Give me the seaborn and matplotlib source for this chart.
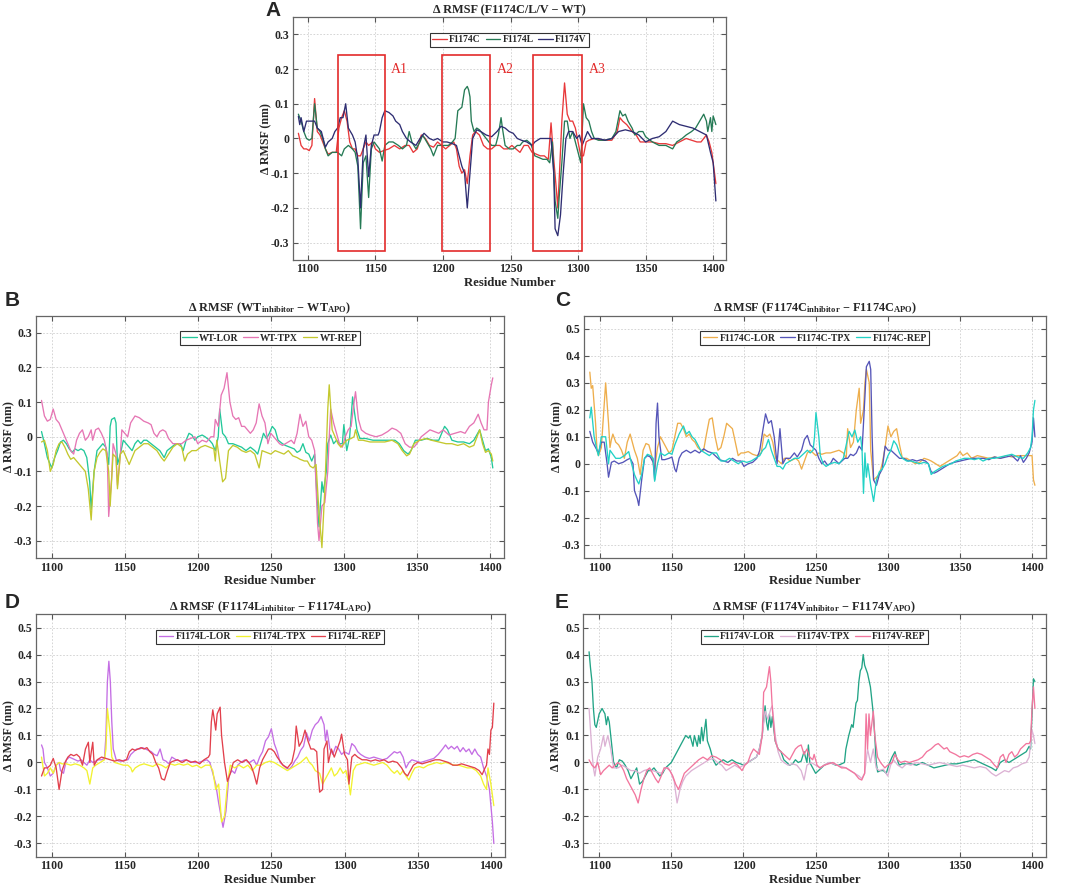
import numpy as np
import pandas as pd
import matplotlib
matplotlib.use('Agg')
import matplotlib.pyplot as plt
from matplotlib.patches import Rectangle
from matplotlib.ticker import FuncFormatter
import seaborn as sns

# ─── Data: (residue, delta RMSF nm)
#
A_F1174C = [(1093,0.015),(1095,-0.02),(1097,-0.03),(1099,-0.03),(1101,-0.035),(1103,-0.02),(1105,0.115),(1107,0.02),(1109,0.01),(1111,-0.01),(1113,-0.03),(1115,-0.045),(1118,-0.04),(1121,-0.04),(1123,0.03),(1125,0.06),(1127,0.08),(1129,0.05),(1131,-0.01),(1133,-0.03),(1135,-0.03),(1137,-0.05),(1139,-0.05),(1141,-0.03),(1143,-0.01),(1145,-0.02),(1148,-0.01),(1150,-0.03),(1153,-0.04),(1156,-0.035),(1160,-0.03),(1164,-0.02),(1168,-0.03),(1172,-0.02),(1175,-0.02),(1178,-0.04),(1181,-0.03),(1184,0.01),(1187,0.0),(1190,-0.02),(1193,-0.025),(1196,-0.01),(1199,-0.02),(1202,-0.03),(1205,-0.02),(1208,-0.01),(1210,-0.03),(1212,-0.08),(1214,-0.1),(1216,-0.09),(1218,-0.13),(1220,-0.05),(1222,0.01),(1224,0.02),(1227,0.01),(1230,-0.02),(1233,-0.03),(1236,-0.03),(1239,-0.02),(1242,-0.02),(1245,-0.03),(1248,-0.03),(1251,-0.02),(1254,-0.03),(1257,-0.04),(1260,-0.02),(1263,-0.02),(1266,-0.04),(1269,-0.045),(1272,-0.05),(1275,-0.05),(1278,-0.06),(1280,0.045),(1282,-0.06),(1284,-0.15),(1285,-0.2),(1286,-0.12),(1288,0.05),(1290,0.16),(1292,0.07),(1294,0.05),(1296,0.05),(1298,0.03),(1300,-0.01),(1302,-0.05),(1304,-0.05),(1306,-0.01),(1308,-0.005),(1312,0.0),(1318,-0.005),(1325,-0.005),(1329,0.02),(1331,0.06),(1333,0.05),(1336,0.04),(1340,0.02),(1343,0.01),(1346,-0.01),(1350,-0.01),(1355,-0.01),(1360,-0.015),(1365,-0.015),(1370,-0.02),(1375,-0.01),(1380,0.0),(1384,-0.005),(1388,-0.01),(1391,-0.01),(1393,0.0),(1395,0.01),(1397,-0.01),(1399,-0.04),(1401,-0.1),(1402,-0.13)]
A_F1174L = [(1093,0.07),(1095,0.05),(1097,0.02),(1099,0.0),(1101,-0.005),(1103,0.0),(1105,0.1),(1107,0.03),(1109,0.02),(1111,0.0),(1113,-0.03),(1115,-0.05),(1118,-0.04),(1122,-0.04),(1125,-0.05),(1127,-0.03),(1130,-0.02),(1133,-0.03),(1135,-0.04),(1137,-0.08),(1139,-0.26),(1141,-0.07),(1143,-0.05),(1145,-0.17),(1147,-0.03),(1149,-0.01),(1151,-0.02),(1153,-0.03),(1155,-0.065),(1157,-0.02),(1160,-0.01),(1163,-0.01),(1167,-0.02),(1170,-0.03),(1173,-0.02),(1175,0.02),(1177,-0.01),(1180,-0.03),(1183,-0.01),(1185,0.01),(1188,-0.01),(1191,-0.03),(1193,-0.05),(1196,-0.02),(1200,-0.02),(1204,-0.02),(1207,-0.01),(1209,0.0),(1211,0.08),(1214,0.09),(1216,0.14),(1218,0.15),(1219,0.14),(1220,0.12),(1221,0.05),(1223,0.02),(1225,0.03),(1227,0.025),(1230,0.01),(1233,-0.005),(1236,-0.02),(1239,-0.02),(1241,0.01),(1243,0.06),(1244,0.03),(1246,-0.02),(1249,-0.03),(1252,-0.03),(1255,-0.02),(1257,-0.02),(1259,-0.01),(1262,-0.005),(1265,-0.015),(1268,-0.05),(1271,-0.055),(1274,-0.06),(1277,-0.06),(1279,-0.07),(1281,-0.01),(1283,-0.18),(1285,-0.23),(1286,-0.17),(1288,-0.07),(1290,0.05),(1292,0.05),(1294,0.0),(1296,0.02),(1298,-0.01),(1300,-0.04),(1302,-0.07),(1304,0.1),(1306,0.06),(1308,0.05),(1310,0.02),(1312,0.0),(1315,-0.005),(1320,-0.005),(1325,0.0),(1328,0.02),(1331,0.08),(1333,0.065),(1335,0.07),(1337,0.05),(1340,0.03),(1342,0.01),(1345,0.02),(1348,0.02),(1350,0.005),(1355,-0.01),(1360,-0.02),(1365,-0.02),(1370,-0.03),(1373,-0.01),(1377,0.0),(1380,0.01),(1384,0.02),(1387,0.03),(1390,0.05),(1393,0.07),(1395,0.05),(1396,0.02),(1398,0.06),(1399,0.02),(1400,0.065),(1402,0.04)]
A_F1174V = [(1093,0.064),(1094,0.04),(1095,0.06),(1097,0.02),(1099,0.05),(1102,0.05),(1105,0.05),(1107,0.03),(1110,0.02),(1113,-0.025),(1115,-0.01),(1118,0.0),(1120,0.02),(1122,0.03),(1124,0.06),(1126,0.06),(1128,0.1),(1130,0.03),(1133,0.01),(1135,-0.01),(1137,-0.06),(1139,-0.2),(1141,-0.03),(1143,0.01),(1145,-0.11),(1147,-0.02),(1149,0.01),(1152,0.01),(1153,0.02),(1155,0.06),(1157,0.08),(1160,0.075),(1163,0.065),(1165,0.05),(1168,0.04),(1170,0.02),(1173,0.0),(1176,-0.01),(1180,-0.02),(1183,0.0),(1186,0.015),(1190,0.0),(1193,-0.005),(1196,0.0),(1200,-0.01),(1203,-0.01),(1207,-0.015),(1210,-0.02),(1212,-0.05),(1214,-0.08),(1216,-0.1),(1218,-0.2),(1220,-0.1),(1222,0.0),(1225,0.025),(1228,0.02),(1232,0.01),(1236,0.005),(1240,0.02),(1243,0.035),(1246,0.03),(1249,0.02),(1252,0.015),(1255,0.0),(1258,-0.005),(1262,-0.01),(1266,-0.02),(1268,-0.01),(1272,0.0),(1276,0.0),(1280,0.0),(1282,-0.1),(1283,-0.26),(1285,-0.28),(1287,-0.22),(1289,-0.1),(1291,0.0),(1293,0.02),(1296,0.02),(1299,0.0),(1301,0.01),(1303,-0.02),(1305,0.0),(1307,0.02),(1310,0.0),(1315,0.0),(1320,-0.005),(1325,0.0),(1330,0.02),(1335,0.025),(1340,0.02),(1345,0.01),(1350,-0.01),(1355,0.0),(1360,0.005),(1365,0.02),(1370,0.05),(1375,0.04),(1380,0.035),(1385,0.03),(1390,0.02),(1395,0.01),(1398,-0.04),(1400,-0.07),(1402,-0.18)]

B_LOR = [(1093,0.015),(1095,-0.02),(1097,-0.06),(1100,-0.09),(1102,-0.06),(1104,-0.04),(1106,-0.015),(1108,-0.01),(1110,-0.02),(1112,-0.035),(1114,-0.045),(1116,-0.035),(1118,-0.04),(1120,-0.035),(1122,-0.04),(1124,-0.06),(1126,-0.13),(1127,-0.21),(1129,-0.1),(1131,-0.04),(1133,-0.03),(1135,-0.02),(1137,-0.03),(1139,-0.08),(1140,0.03),(1141,0.05),(1143,0.055),(1144,0.04),(1145,-0.08),(1147,-0.05),(1149,-0.01),(1151,-0.02),(1153,-0.03),(1155,-0.04),(1157,-0.02),(1159,-0.01),(1161,-0.02),(1163,-0.01),(1165,-0.01),(1168,-0.02),(1171,-0.03),(1174,-0.04),(1177,-0.06),(1179,-0.04),(1182,-0.03),(1185,-0.02),(1188,-0.02),(1190,-0.04),(1192,-0.01),(1194,0.01),(1196,0.005),(1198,-0.01),(1200,0.0),(1203,0.005),(1205,0.0),(1208,-0.01),(1210,-0.02),(1212,-0.04),(1214,0.0),(1215,0.08),(1217,0.01),(1219,0.0),(1221,-0.02),(1224,-0.02),(1227,-0.025),(1230,-0.03),(1233,-0.04),(1236,-0.03),(1239,-0.04),(1241,-0.05),(1243,-0.02),(1245,0.01),(1247,-0.005),(1249,0.01),(1251,0.03),(1253,0.02),(1255,-0.01),(1258,-0.02),(1260,-0.025),(1263,-0.03),(1266,-0.035),(1268,-0.045),(1270,-0.04),(1272,-0.02),(1274,-0.045),(1276,-0.05),(1278,-0.07),(1280,-0.05),(1282,-0.2),(1283,-0.26),(1285,-0.13),(1286,-0.16),(1288,-0.1),(1289,-0.02),(1291,0.005),(1293,-0.02),(1295,-0.01),(1297,-0.02),(1299,-0.02),(1300,0.035),(1302,-0.04),(1304,0.0),(1306,0.115),(1307,0.08),(1309,0.02),(1311,-0.005),(1315,-0.005),(1320,-0.01),(1325,-0.01),(1330,-0.01),(1335,-0.01),(1338,-0.02),(1341,-0.04),(1344,-0.05),(1346,-0.04),(1349,-0.01),(1353,-0.01),(1357,-0.005),(1361,-0.01),(1365,-0.01),(1369,0.03),(1371,0.02),(1374,-0.01),(1378,-0.015),(1382,-0.015),(1386,-0.02),(1389,-0.01),(1393,0.02),(1395,-0.01),(1397,-0.04),(1399,-0.035),(1401,-0.06),(1402,-0.09)]
B_TPX = [(1093,0.105),(1095,0.06),(1097,0.045),(1099,0.05),(1101,0.08),(1103,0.05),(1105,0.04),(1107,0.02),(1109,0.0),(1111,-0.02),(1113,-0.04),(1115,-0.05),(1117,-0.01),(1119,0.01),(1121,0.02),(1123,-0.01),(1125,0.0),(1127,0.02),(1128,-0.01),(1130,0.02),(1132,0.025),(1134,0.01),(1136,-0.01),(1138,-0.05),(1139,-0.23),(1141,-0.12),(1142,-0.02),(1144,-0.05),(1145,-0.14),(1147,-0.05),(1148,0.02),(1150,0.01),(1152,0.0),(1154,0.04),(1157,0.06),(1160,0.055),(1163,0.045),(1166,0.04),(1168,0.035),(1170,0.01),(1172,0.0),(1174,0.015),(1176,0.02),(1178,0.015),(1180,-0.005),(1183,-0.02),(1186,-0.02),(1189,-0.02),(1192,-0.01),(1195,-0.005),(1198,0.0),(1200,-0.02),(1203,-0.01),(1206,-0.015),(1209,0.0),(1211,0.0),(1212,0.05),(1214,0.03),(1216,0.12),(1218,0.14),(1220,0.185),(1222,0.1),(1224,0.06),(1226,0.05),(1228,0.055),(1230,0.03),(1232,0.03),(1234,0.02),(1236,0.01),(1238,0.02),(1240,0.04),(1242,0.095),(1244,0.06),(1246,0.04),(1248,-0.02),(1250,0.01),(1252,0.0),(1254,-0.01),(1256,-0.02),(1258,-0.025),(1260,-0.02),(1262,-0.015),(1264,-0.01),(1266,-0.02),(1268,0.01),(1270,0.065),(1272,0.03),(1274,0.045),(1276,0.0),(1278,-0.01),(1280,-0.04),(1282,-0.25),(1283,-0.3),(1285,-0.2),(1287,-0.19),(1289,-0.1),(1290,0.0),(1291,0.08),(1293,0.04),(1295,0.01),(1297,-0.02),(1299,-0.03),(1301,0.0),(1303,0.02),(1305,0.03),(1307,0.1),(1308,0.13),(1310,0.05),(1312,0.02),(1315,0.01),(1318,0.005),(1322,0.0),(1326,0.005),(1330,0.015),(1333,0.025),(1336,0.02),(1339,0.01),(1342,-0.02),(1345,-0.03),(1348,-0.03),(1350,-0.02),(1353,0.0),(1356,0.01),(1359,0.02),(1362,0.015),(1365,0.01),(1368,0.02),(1372,0.005),(1376,0.01),(1380,0.015),(1383,0.01),(1386,0.03),(1389,0.04),(1392,0.065),(1394,0.04),(1396,0.02),(1398,0.02),(1399,0.1),(1401,0.15),(1402,0.17)]
B_REP = [(1093,-0.015),(1095,-0.01),(1097,-0.04),(1099,-0.1),(1101,-0.08),(1103,-0.04),(1105,-0.02),(1107,-0.015),(1109,-0.03),(1111,-0.05),(1113,-0.065),(1115,-0.06),(1117,-0.07),(1119,-0.08),(1121,-0.09),(1123,-0.1),(1125,-0.15),(1127,-0.24),(1129,-0.1),(1131,-0.06),(1133,-0.045),(1135,-0.035),(1137,-0.04),(1139,-0.1),(1140,-0.2),(1142,-0.05),(1144,-0.06),(1145,-0.15),(1147,-0.05),(1149,-0.04),(1151,-0.06),(1153,-0.08),(1155,-0.06),(1157,-0.04),(1160,-0.03),(1163,-0.02),(1166,-0.02),(1169,-0.03),(1172,-0.04),(1175,-0.06),(1177,-0.07),(1180,-0.05),(1183,-0.03),(1186,-0.02),(1189,-0.03),(1191,-0.07),(1193,-0.05),(1196,-0.04),(1199,-0.04),(1202,-0.03),(1205,-0.025),(1208,-0.03),(1211,-0.035),(1212,-0.07),(1213,-0.01),(1215,-0.07),(1217,-0.13),(1219,-0.12),(1221,-0.04),(1224,-0.025),(1227,-0.03),(1230,-0.04),(1233,-0.045),(1236,-0.04),(1239,-0.05),(1242,-0.09),(1244,-0.04),(1247,-0.045),(1250,-0.05),(1253,-0.04),(1256,-0.045),(1259,-0.05),(1262,-0.04),(1265,-0.055),(1268,-0.06),(1270,-0.065),(1273,-0.07),(1275,-0.07),(1277,-0.085),(1279,-0.09),(1281,-0.08),(1283,-0.22),(1285,-0.32),(1287,-0.15),(1289,0.08),(1290,0.15),(1292,0.02),(1294,0.0),(1296,-0.02),(1298,-0.03),(1300,-0.02),(1302,-0.01),(1305,-0.005),(1307,0.0),(1308,0.02),(1310,-0.01),(1313,-0.01),(1318,-0.015),(1323,-0.015),(1328,-0.015),(1333,-0.01),(1337,-0.02),(1340,-0.04),(1343,-0.055),(1345,-0.05),(1348,-0.02),(1352,-0.01),(1356,-0.005),(1360,-0.01),(1365,-0.015),(1370,-0.02),(1374,-0.02),(1378,-0.025),(1382,-0.02),(1386,-0.03),(1389,-0.025),(1393,0.02),(1395,-0.02),(1397,-0.045),(1399,-0.04),(1401,-0.05),(1402,-0.07)]

C_LOR = [(1093,0.34),(1094,0.28),(1095,0.29),(1097,0.15),(1098,0.05),(1099,0.03),(1101,0.06),(1103,0.22),(1104,0.3),(1106,0.15),(1107,0.06),(1108,0.09),(1109,0.11),(1111,0.08),(1113,0.07),(1115,0.05),(1117,0.02),(1119,0.08),(1121,0.11),(1123,0.07),(1124,0.05),(1126,0.02),(1128,-0.04),(1130,0.05),(1132,0.075),(1134,0.07),(1136,0.03),(1138,-0.02),(1140,0.06),(1142,0.1),(1144,0.08),(1146,0.06),(1148,0.04),(1150,0.05),(1152,0.1),(1154,0.15),(1156,0.15),(1158,0.13),(1160,0.1),(1162,0.11),(1164,0.09),(1166,0.08),(1168,0.06),(1170,0.05),(1172,0.05),(1174,0.11),(1176,0.165),(1178,0.17),(1180,0.1),(1182,0.05),(1184,0.06),(1186,0.1),(1188,0.15),(1190,0.14),(1192,0.13),(1194,0.08),(1196,0.03),(1198,0.04),(1200,0.04),(1203,0.045),(1206,0.035),(1209,0.03),(1212,0.04),(1214,0.11),(1216,0.1),(1218,0.11),(1220,0.08),(1222,0.02),(1224,0.01),(1226,0.0),(1228,0.02),(1230,0.02),(1232,0.01),(1234,0.015),(1236,0.02),(1238,0.01),(1240,-0.02),(1242,0.01),(1244,0.04),(1246,0.05),(1248,0.04),(1250,0.03),(1252,0.04),(1254,0.035),(1257,0.04),(1260,0.04),(1263,0.045),(1266,0.05),(1269,0.04),(1271,0.02),(1272,0.13),(1274,0.06),(1276,0.08),(1278,0.2),(1280,0.28),(1281,0.15),(1283,0.2),(1284,0.3),(1285,0.35),(1287,0.3),(1288,0.05),(1290,-0.06),(1292,-0.05),(1294,-0.04),(1296,0.0),(1298,0.06),(1300,0.14),(1302,0.1),(1304,0.12),(1306,0.13),(1308,0.07),(1310,0.02),(1313,0.02),(1316,0.01),(1319,0.0),(1322,0.005),(1325,0.02),(1328,0.015),(1330,0.01),(1333,0.0),(1336,-0.01),(1339,0.0),(1342,0.01),(1345,0.02),(1348,0.03),(1350,0.045),(1352,0.03),(1355,0.04),(1358,0.02),(1362,0.03),(1366,0.025),(1370,0.02),(1374,0.025),(1378,0.02),(1382,0.03),(1386,0.025),(1390,0.03),(1394,0.03),(1398,0.03),(1400,0.03),(1401,-0.06),(1402,-0.08)]
C_TPX = [(1093,0.12),(1095,0.08),(1097,0.06),(1099,0.04),(1101,0.08),(1103,0.08),(1105,0.0),(1106,-0.05),(1108,0.005),(1110,0.01),(1113,0.0),(1116,0.005),(1119,0.015),(1121,0.02),(1123,0.0),(1124,-0.1),(1126,-0.13),(1127,-0.155),(1129,-0.06),(1131,0.02),(1133,0.03),(1135,0.025),(1137,0.005),(1138,-0.06),(1139,0.15),(1140,0.225),(1141,0.1),(1143,0.015),(1145,0.015),(1148,0.02),(1150,0.025),(1152,-0.02),(1153,-0.03),(1155,0.02),(1157,0.04),(1160,0.05),(1163,0.04),(1166,0.05),(1169,0.04),(1172,0.055),(1175,0.045),(1178,0.04),(1180,0.03),(1183,0.015),(1186,0.01),(1189,0.005),(1192,0.02),(1195,0.01),(1198,0.01),(1200,-0.01),(1203,0.0),(1206,0.005),(1209,0.02),(1211,0.05),(1213,0.12),(1215,0.185),(1217,0.15),(1219,0.16),(1221,0.1),(1223,0.0),(1225,0.13),(1227,0.0),(1229,0.02),(1232,0.02),(1235,0.04),(1237,0.025),(1240,0.05),(1242,0.09),(1244,0.105),(1246,0.07),(1248,0.06),(1250,0.05),(1252,0.02),(1254,0.0),(1256,0.01),(1258,-0.005),(1260,0.0),(1262,0.02),(1264,0.01),(1266,0.0),(1268,0.01),(1270,0.02),(1272,0.02),(1274,0.035),(1276,0.03),(1278,0.04),(1280,0.065),(1282,0.05),(1284,0.25),(1285,0.36),(1287,0.38),(1288,0.35),(1289,0.1),(1290,-0.06),(1292,-0.08),(1294,-0.04),(1296,-0.02),(1298,0.065),(1300,0.05),(1302,0.05),(1304,0.04),(1306,0.03),(1308,0.02),(1311,0.02),(1314,0.01),(1317,0.015),(1320,0.01),(1323,0.015),(1326,0.01),(1328,0.0),(1330,-0.03),(1332,-0.035),(1334,-0.03),(1337,-0.02),(1340,-0.01),(1343,0.0),(1346,0.005),(1350,0.01),(1354,0.015),(1358,0.02),(1362,0.02),(1366,0.02),(1370,0.015),(1374,0.025),(1378,0.02),(1382,0.025),(1386,0.03),(1390,0.01),(1392,0.03),(1394,0.005),(1396,0.02),(1398,0.04),(1400,0.08),(1401,0.17),(1402,0.1)]
C_REP = [(1093,0.17),(1094,0.21),(1096,0.1),(1098,0.05),(1099,0.03),(1101,0.1),(1104,0.1),(1106,0.0),(1107,0.05),(1109,0.035),(1111,0.02),(1114,0.02),(1117,0.03),(1120,0.045),(1122,0.0),(1124,-0.04),(1126,-0.065),(1127,-0.075),(1129,-0.04),(1131,0.02),(1133,0.035),(1135,0.03),(1137,0.02),(1138,-0.065),(1140,0.0),(1142,0.04),(1145,0.03),(1148,0.04),(1150,0.035),(1152,0.07),(1155,0.11),(1158,0.14),(1160,0.11),(1162,0.12),(1164,0.1),(1166,0.09),(1168,0.07),(1170,0.05),(1173,0.04),(1176,0.03),(1178,0.04),(1181,0.04),(1184,0.01),(1187,0.01),(1190,0.02),(1193,0.01),(1196,0.0),(1199,0.01),(1202,0.005),(1205,0.01),(1208,0.02),(1211,0.03),(1213,0.05),(1215,0.06),(1217,0.09),(1219,0.05),(1221,0.02),(1223,-0.01),(1225,-0.01),(1227,-0.02),(1229,0.0),(1232,0.01),(1235,0.02),(1238,0.02),(1241,0.035),(1244,0.05),(1246,0.04),(1248,0.05),(1249,0.1),(1250,0.19),(1252,0.1),(1253,0.03),(1255,0.0),(1257,-0.01),(1260,0.0),(1263,0.005),(1266,0.0),(1269,0.02),(1271,0.07),(1273,0.12),(1275,0.1),(1277,0.125),(1279,0.08),(1281,0.1),(1282,0.05),(1283,-0.11),(1284,0.04),(1285,-0.05),(1286,0.0),(1288,-0.08),(1290,-0.14),(1292,-0.06),(1294,-0.03),(1296,-0.02),(1298,0.0),(1300,0.03),(1302,0.05),(1304,0.085),(1306,0.07),(1308,0.04),(1310,0.02),(1313,0.01),(1316,0.01),(1319,0.005),(1322,0.0),(1325,0.005),(1328,0.0),(1330,-0.04),(1332,-0.03),(1335,-0.02),(1338,-0.01),(1341,-0.005),(1344,0.0),(1347,0.01),(1350,0.015),(1353,0.02),(1356,0.02),(1360,0.015),(1363,0.02),(1366,0.01),(1370,0.02),(1374,0.02),(1378,0.025),(1382,0.03),(1386,0.035),(1390,0.025),(1394,0.02),(1397,0.04),(1399,0.06),(1400,0.1),(1401,0.2),(1402,0.235)]

D_LOR = [(1093,0.065),(1094,0.05),(1095,0.0),(1097,-0.02),(1099,-0.05),(1101,-0.04),(1103,-0.01),(1105,0.0),(1106,-0.03),(1108,-0.04),(1110,0.01),(1112,0.02),(1114,0.015),(1116,0.01),(1118,0.005),(1120,0.01),(1122,0.0),(1124,-0.01),(1126,0.01),(1128,0.0),(1130,0.005),(1132,0.01),(1134,0.01),(1136,0.015),(1137,0.1),(1138,0.3),(1139,0.375),(1140,0.3),(1141,0.15),(1142,0.05),(1144,0.01),(1146,0.005),(1148,0.005),(1150,0.01),(1152,0.01),(1154,0.03),(1156,0.04),(1158,0.05),(1160,0.05),(1162,0.055),(1164,0.05),(1166,0.045),(1168,0.04),(1170,0.03),(1172,0.025),(1174,0.05),(1176,0.01),(1178,0.005),(1180,-0.005),(1182,0.02),(1185,0.01),(1188,0.005),(1191,0.01),(1194,0.005),(1197,0.0),(1200,0.0),(1203,0.005),(1206,0.01),(1208,0.0),(1210,-0.04),(1212,-0.08),(1214,-0.15),(1215,-0.18),(1217,-0.24),(1219,-0.18),(1221,-0.05),(1223,-0.03),(1225,-0.04),(1227,-0.01),(1229,0.0),(1232,0.01),(1235,0.0),(1238,0.01),(1240,-0.01),(1242,0.02),(1244,0.04),(1246,0.08),(1248,0.095),(1250,0.125),(1252,0.07),(1254,0.04),(1256,0.0),(1258,-0.01),(1260,-0.02),(1262,-0.025),(1264,-0.015),(1266,0.005),(1268,0.02),(1270,0.045),(1272,0.06),(1274,0.11),(1276,0.08),(1278,0.12),(1280,0.14),(1282,0.15),(1284,0.17),(1286,0.14),(1287,0.08),(1288,0.12),(1290,0.05),(1292,0.03),(1294,0.06),(1296,0.05),(1298,0.03),(1300,0.04),(1303,0.03),(1305,0.07),(1307,0.06),(1309,0.04),(1311,0.03),(1314,0.02),(1317,0.015),(1320,0.02),(1323,0.015),(1326,0.01),(1329,0.015),(1332,0.03),(1334,0.04),(1336,0.035),(1338,0.04),(1340,0.02),(1342,-0.02),(1344,0.0),(1346,0.01),(1349,0.005),(1352,0.0),(1355,0.005),(1358,0.01),(1361,0.015),(1364,0.03),(1367,0.05),(1369,0.065),(1371,0.05),(1373,0.06),(1375,0.05),(1377,0.06),(1379,0.04),(1381,0.055),(1383,0.04),(1385,0.05),(1387,0.03),(1389,0.05),(1391,0.03),(1393,0.02),(1395,-0.02),(1397,-0.05),(1399,-0.1),(1401,-0.22),(1402,-0.3)]
D_TPX = [(1093,0.02),(1095,-0.05),(1097,-0.04),(1099,-0.02),(1101,-0.04),(1103,-0.01),(1105,0.0),(1107,-0.005),(1110,-0.005),(1113,-0.01),(1116,-0.005),(1119,-0.01),(1122,-0.02),(1124,-0.03),(1126,-0.08),(1128,-0.02),(1130,-0.01),(1133,0.0),(1136,0.01),(1137,0.05),(1138,0.2),(1140,0.1),(1141,0.02),(1143,0.0),(1146,-0.005),(1149,-0.01),(1152,-0.01),(1154,-0.02),(1155,-0.035),(1157,-0.02),(1160,-0.01),(1163,-0.005),(1166,-0.01),(1169,-0.015),(1172,-0.005),(1175,-0.01),(1178,-0.02),(1181,-0.005),(1184,-0.01),(1187,-0.005),(1190,-0.01),(1193,-0.005),(1196,-0.015),(1199,-0.01),(1202,-0.02),(1205,-0.01),(1208,-0.01),(1210,-0.03),(1212,-0.1),(1214,-0.08),(1216,-0.22),(1218,-0.2),(1220,-0.08),(1222,-0.01),(1225,-0.02),(1228,-0.01),(1231,-0.02),(1234,-0.01),(1237,-0.03),(1240,-0.01),(1243,-0.01),(1246,0.0),(1249,0.005),(1252,0.0),(1255,-0.01),(1258,-0.02),(1261,-0.03),(1264,-0.02),(1267,-0.01),(1270,0.0),(1272,0.01),(1274,0.02),(1276,0.0),(1278,-0.01),(1280,-0.03),(1283,-0.04),(1285,-0.08),(1287,-0.06),(1289,-0.04),(1291,-0.02),(1293,-0.05),(1295,-0.04),(1297,-0.02),(1299,-0.04),(1301,-0.03),(1303,-0.08),(1304,-0.12),(1306,-0.03),(1308,-0.01),(1311,-0.005),(1314,0.0),(1317,-0.005),(1320,-0.01),(1323,-0.005),(1326,0.0),(1329,-0.01),(1332,-0.03),(1334,-0.04),(1336,-0.03),(1338,-0.045),(1340,-0.03),(1342,-0.05),(1344,-0.065),(1346,-0.04),(1348,-0.02),(1351,-0.015),(1354,-0.02),(1357,-0.01),(1360,-0.005),(1363,0.0),(1366,-0.005),(1369,0.0),(1372,-0.005),(1375,-0.01),(1378,-0.01),(1381,-0.015),(1384,-0.02),(1387,-0.02),(1390,-0.03),(1393,-0.05),(1395,-0.08),(1397,-0.1),(1398,-0.02),(1400,-0.08),(1402,-0.16)]
D_REP = [(1093,-0.05),(1095,-0.02),(1097,-0.02),(1099,-0.01),(1101,0.015),(1103,-0.02),(1105,-0.1),(1107,-0.03),(1109,0.0),(1111,0.02),(1113,0.03),(1115,0.025),(1117,0.03),(1119,0.02),(1121,-0.01),(1123,0.05),(1125,0.075),(1126,0.0),(1127,0.04),(1128,0.075),(1129,-0.01),(1131,0.01),(1134,0.02),(1137,0.015),(1140,0.01),(1143,0.005),(1146,0.01),(1149,0.005),(1151,0.01),(1153,0.04),(1155,0.05),(1157,0.045),(1159,0.05),(1161,0.055),(1163,0.05),(1165,0.055),(1167,0.04),(1169,0.03),(1171,0.0),(1173,-0.02),(1175,-0.06),(1177,-0.065),(1179,-0.03),(1181,0.0),(1183,0.005),(1186,0.01),(1189,0.0),(1192,0.01),(1195,0.0),(1198,0.005),(1201,-0.005),(1204,0.01),(1207,0.02),(1208,0.03),(1209,0.15),(1210,0.195),(1211,0.16),(1212,0.12),(1213,0.18),(1215,0.205),(1216,0.1),(1218,0.0),(1220,-0.07),(1222,-0.04),(1224,0.0),(1227,0.01),(1230,0.0),(1233,0.01),(1236,-0.01),(1238,-0.04),(1240,-0.08),(1242,-0.02),(1244,0.01),(1246,0.03),(1248,0.05),(1250,0.05),(1252,0.04),(1254,0.02),(1256,0.005),(1258,-0.01),(1261,-0.02),(1264,0.0),(1266,0.05),(1267,0.135),(1269,0.06),(1271,0.08),(1273,0.12),(1275,0.08),(1277,0.05),(1279,0.05),(1281,0.04),(1282,-0.05),(1283,-0.11),(1285,-0.1),(1286,0.05),(1288,0.08),(1289,0.0),(1291,0.05),(1293,0.02),(1295,0.05),(1297,0.08),(1298,0.105),(1300,0.03),(1302,0.01),(1303,-0.08),(1305,0.02),(1307,0.03),(1309,0.02),(1312,0.01),(1315,0.01),(1318,0.005),(1321,0.01),(1324,0.005),(1327,0.01),(1330,0.0),(1333,0.005),(1336,0.0),(1339,-0.02),(1341,-0.04),(1343,-0.05),(1345,-0.03),(1347,-0.01),(1350,0.0),(1353,-0.005),(1356,0.0),(1359,0.005),(1362,0.01),(1365,0.01),(1368,0.005),(1371,0.0),(1374,-0.01),(1377,-0.01),(1380,-0.005),(1383,-0.01),(1386,-0.015),(1389,-0.02),(1392,-0.03),(1394,-0.045),(1396,-0.02),(1397,-0.01),(1398,0.05),(1399,0.03),(1400,0.12),(1401,0.13),(1402,0.22)]

E_LOR = [(1093,0.41),(1094,0.35),(1095,0.3),(1096,0.2),(1097,0.14),(1098,0.13),(1100,0.18),(1102,0.2),(1104,0.18),(1105,0.14),(1106,0.17),(1107,0.15),(1108,0.1),(1109,0.05),(1110,0.0),(1112,-0.02),(1114,0.01),(1116,0.005),(1118,-0.01),(1120,-0.03),(1122,-0.06),(1124,-0.04),(1126,-0.02),(1128,-0.08),(1130,-0.07),(1132,-0.05),(1134,-0.03),(1136,-0.03),(1138,-0.02),(1140,-0.035),(1142,-0.05),(1144,-0.04),(1146,-0.02),(1148,-0.01),(1150,0.0),(1152,0.02),(1154,0.04),(1156,0.06),(1158,0.08),(1160,0.1),(1162,0.09),(1163,0.1),(1165,0.06),(1166,0.1),(1168,0.06),(1169,0.1),(1170,0.07),(1171,0.13),(1172,0.08),(1174,0.16),(1175,0.08),(1177,0.05),(1179,0.01),(1181,-0.01),(1183,0.0),(1186,0.01),(1189,0.0),(1192,0.01),(1195,0.0),(1198,-0.005),(1200,-0.01),(1203,0.0),(1206,0.01),(1209,0.02),(1211,0.05),(1213,0.1),(1215,0.21),(1216,0.15),(1217,0.12),(1218,0.18),(1219,0.13),(1220,0.17),(1222,0.08),(1224,0.05),(1226,0.04),(1228,0.01),(1230,0.0),(1232,-0.01),(1234,-0.005),(1236,0.01),(1238,0.0),(1240,0.005),(1242,0.04),(1244,0.0),(1245,0.065),(1246,0.0),(1248,-0.02),(1250,-0.04),(1252,-0.03),(1254,-0.02),(1256,-0.01),(1258,-0.005),(1260,0.0),(1262,-0.005),(1264,-0.01),(1266,-0.01),(1268,-0.005),(1270,0.0),(1271,0.05),(1273,0.1),(1275,0.14),(1276,0.13),(1278,0.22),(1279,0.23),(1280,0.3),(1281,0.34),(1282,0.35),(1283,0.4),(1284,0.36),(1286,0.33),(1288,0.28),(1290,0.18),(1291,0.1),(1292,0.0),(1293,-0.035),(1295,-0.03),(1297,-0.03),(1299,-0.04),(1301,-0.005),(1303,0.02),(1305,0.04),(1306,0.02),(1308,-0.01),(1310,-0.005),(1313,-0.005),(1316,-0.005),(1320,-0.01),(1324,0.0),(1328,-0.01),(1332,-0.02),(1336,-0.015),(1340,-0.01),(1344,-0.005),(1348,-0.005),(1352,0.0),(1356,0.005),(1360,0.01),(1364,0.0),(1368,-0.01),(1372,-0.02),(1375,-0.03),(1378,0.0),(1381,0.01),(1384,0.0),(1387,0.01),(1390,0.02),(1393,0.03),(1396,0.04),(1398,0.06),(1399,0.05),(1400,0.18),(1401,0.31),(1402,0.3)]
E_TPX = [(1093,0.2),(1095,0.04),(1096,-0.02),(1097,-0.05),(1099,0.02),(1101,0.05),(1103,0.1),(1104,0.06),(1106,0.1),(1108,0.05),(1110,-0.02),(1113,-0.02),(1116,-0.01),(1119,-0.02),(1122,-0.03),(1125,-0.03),(1128,-0.04),(1131,-0.03),(1134,-0.025),(1137,-0.03),(1140,-0.035),(1143,-0.04),(1146,-0.02),(1148,-0.02),(1150,-0.04),(1152,-0.07),(1154,-0.15),(1156,-0.1),(1158,-0.07),(1160,-0.05),(1162,-0.04),(1164,-0.03),(1167,-0.02),(1170,-0.01),(1173,0.0),(1176,0.01),(1179,0.015),(1182,0.0),(1185,-0.01),(1188,-0.03),(1191,-0.02),(1194,-0.01),(1197,-0.02),(1200,-0.01),(1203,0.0),(1206,0.01),(1209,0.02),(1211,0.05),(1213,0.1),(1215,0.19),(1217,0.16),(1219,0.2),(1220,0.21),(1222,0.1),(1224,0.04),(1226,0.01),(1228,0.0),(1231,-0.01),(1234,-0.005),(1237,-0.01),(1240,-0.03),(1242,-0.065),(1244,-0.01),(1247,0.0),(1250,-0.01),(1253,-0.02),(1256,-0.01),(1259,0.0),(1262,-0.005),(1265,-0.01),(1268,-0.015),(1271,-0.02),(1274,-0.03),(1277,-0.04),(1280,-0.05),(1282,-0.06),(1284,-0.04),(1286,0.05),(1288,0.0),(1290,0.05),(1292,-0.02),(1294,-0.03),(1297,-0.025),(1300,-0.05),(1302,-0.01),(1304,0.01),(1307,-0.01),(1310,-0.02),(1313,-0.005),(1316,-0.01),(1320,0.0),(1324,-0.005),(1328,-0.01),(1332,-0.005),(1336,0.0),(1340,-0.005),(1344,-0.01),(1348,-0.015),(1352,-0.01),(1356,-0.015),(1360,-0.02),(1364,-0.015),(1368,-0.02),(1372,-0.04),(1375,-0.05),(1378,-0.04),(1381,-0.03),(1384,-0.035),(1387,-0.02),(1390,-0.015),(1393,-0.005),(1396,0.0),(1398,0.02),(1400,0.12),(1401,0.1),(1402,0.07)]
E_REP = [(1093,0.01),(1095,-0.01),(1097,-0.02),(1099,0.0),(1101,-0.045),(1103,-0.03),(1105,-0.02),(1107,-0.01),(1109,-0.02),(1111,-0.01),(1113,0.0),(1115,-0.01),(1117,-0.03),(1119,-0.06),(1121,-0.08),(1123,-0.1),(1125,-0.12),(1127,-0.15),(1129,-0.1),(1131,-0.06),(1133,-0.03),(1135,-0.02),(1137,-0.04),(1139,-0.06),(1141,-0.075),(1143,-0.05),(1145,-0.02),(1147,-0.02),(1149,-0.03),(1151,-0.05),(1153,-0.08),(1155,-0.1),(1157,-0.07),(1159,-0.04),(1161,-0.03),(1163,-0.02),(1165,-0.01),(1167,0.0),(1169,0.01),(1172,0.02),(1175,0.01),(1178,0.025),(1181,0.02),(1184,0.01),(1187,-0.005),(1190,-0.01),(1193,0.0),(1196,-0.01),(1199,-0.03),(1201,-0.01),(1203,0.0),(1205,0.03),(1207,0.05),(1209,0.04),(1211,0.03),(1213,0.1),(1214,0.26),(1216,0.28),(1218,0.355),(1219,0.3),(1220,0.2),(1222,0.08),(1224,0.05),(1226,0.04),(1228,0.03),(1230,0.02),(1232,0.01),(1234,0.03),(1236,0.05),(1238,0.06),(1240,0.065),(1242,0.03),(1244,0.05),(1246,0.02),(1248,0.01),(1249,0.03),(1251,-0.01),(1253,-0.02),(1256,-0.01),(1259,-0.005),(1262,0.0),(1265,-0.01),(1268,-0.02),(1271,-0.02),(1274,-0.03),(1277,-0.04),(1280,-0.06),(1282,-0.065),(1284,-0.04),(1285,0.18),(1286,0.05),(1287,0.18),(1288,0.1),(1290,0.19),(1291,0.1),(1293,0.02),(1295,0.0),(1298,-0.02),(1300,-0.01),(1303,0.0),(1305,0.03),(1307,0.01),(1309,0.0),(1312,0.005),(1315,0.0),(1318,0.005),(1321,0.01),(1324,0.02),(1327,0.04),(1330,0.05),(1333,0.065),(1335,0.07),(1337,0.06),(1339,0.05),(1341,0.055),(1343,0.04),(1345,0.035),(1347,0.03),(1350,0.02),(1353,0.025),(1356,0.02),(1359,0.03),(1362,0.035),(1365,0.03),(1368,0.02),(1371,0.01),(1374,-0.01),(1376,-0.02),(1378,0.02),(1380,0.03),(1382,0.0),(1384,0.03),(1386,0.04),(1388,0.02),(1390,0.03),(1392,0.05),(1394,0.06),(1396,0.07),(1398,0.07),(1399,0.08),(1400,0.2),(1401,0.28),(1402,0.2)]

# highlighted regions in panel A (residue start, end) and their labels
A_REGIONS = [(1122, 1157), (1199, 1235), (1267, 1303)]
A_REGION_LABELS = ['A1', 'A2', 'A3']

X_TICKS = [1100, 1150, 1200, 1250, 1300, 1350, 1400]

PANELS = [
    dict(key='A', rect=[0.2751, 0.7079, 0.4066, 0.2730],
         title='Δ RMSF (F1174C/L/V − WT)',
         series=[A_F1174C, A_F1174L, A_F1174V],
         names=['F1174C', 'F1174L', 'F1174V'],
         colors=['#e8383a', '#257a55', '#2e2d72'],
         ylim=(-0.35, 0.35), yticks=[-0.3, -0.2, -0.1, 0, 0.1, 0.2, 0.3],
         label_xy=(0.249, 0.988)),
    dict(key='B', rect=[0.0335, 0.3730, 0.4395, 0.2725],
         title='Δ RMSF (WT$_{inhibitor}$ − WT$_{APO}$)',
         series=[B_LOR, B_TPX, B_REP],
         names=['WT-LOR', 'WT-TPX', 'WT-REP'],
         colors=['#22c89a', '#e676b4', '#c4c82e'],
         ylim=(-0.35, 0.35), yticks=[-0.3, -0.2, -0.1, 0, 0.1, 0.2, 0.3],
         label_xy=(0.004, 0.662)),
    dict(key='C', rect=[0.5484, 0.3730, 0.4335, 0.2725],
         title='Δ RMSF (F1174C$_{inhibitor}$ − F1174C$_{APO}$)',
         series=[C_LOR, C_TPX, C_REP],
         names=['F1174C-LOR', 'F1174C-TPX', 'F1174C-REP'],
         colors=['#eeae4c', '#5555b8', '#22d2c6'],
         ylim=(-0.35, 0.55), yticks=[-0.3, -0.2, -0.1, 0, 0.1, 0.2, 0.3, 0.4, 0.5],
         label_xy=(0.521, 0.662)),
    dict(key='D', rect=[0.0335, 0.0371, 0.4405, 0.2730],
         title='Δ RMSF (F1174L$_{inhibitor}$ − F1174L$_{APO}$)',
         series=[D_LOR, D_TPX, D_REP],
         names=['F1174L-LOR', 'F1174L-TPX', 'F1174L-REP'],
         colors=['#c46ee4', '#f2f230', '#e2404c'],
         ylim=(-0.35, 0.55), yticks=[-0.3, -0.2, -0.1, 0, 0.1, 0.2, 0.3, 0.4, 0.5],
         label_xy=(0.004, 0.323)),
    dict(key='E', rect=[0.5477, 0.0371, 0.4342, 0.2730],
         title='Δ RMSF (F1174V$_{inhibitor}$ − F1174V$_{APO}$)',
         series=[E_LOR, E_TPX, E_REP],
         names=['F1174V-LOR', 'F1174V-TPX', 'F1174V-REP'],
         colors=['#22a486', '#dcb2d4', '#f2769e'],
         ylim=(-0.35, 0.55), yticks=[-0.3, -0.2, -0.1, 0, 0.1, 0.2, 0.3, 0.4, 0.5],
         label_xy=(0.521, 0.323)),
]

# ─── Style
#
sns.set_theme(style='ticks')
plt.rcParams['font.family'] = ['Liberation Serif', 'DejaVu Serif']
plt.rcParams['font.weight'] = 'bold'
plt.rcParams['axes.labelweight'] = 'bold'
plt.rcParams['axes.titleweight'] = 'bold'
plt.rcParams['mathtext.fontset'] = 'custom'
plt.rcParams['mathtext.rm'] = 'Liberation Serif:bold'
plt.rcParams['mathtext.it'] = 'Liberation Serif:bold'
plt.rcParams['mathtext.bf'] = 'Liberation Serif:bold'
plt.rcParams['mathtext.default'] = 'rm'


def fmt_y(v, _):
    if abs(v) < 1e-9:
        return '0'
    return f'{v:.1f}'


# ─── Draw one panel
#
def draw_panel(fig, p):
    ax = fig.add_axes(p['rect'])
    for data, name, col in zip(p['series'], p['names'], p['colors']):
        df = pd.DataFrame(data, columns=['residue', 'drmsf'])
        sns.lineplot(data=df, x='residue', y='drmsf', ax=ax, color=col,
                     linewidth=0.95, label=name, estimator=None, sort=False)

    ax.set_xlim(1089, 1409.5)
    ax.set_ylim(*p['ylim'])
    ax.set_xticks(X_TICKS)
    ax.set_yticks(p['yticks'])
    ax.yaxis.set_major_formatter(FuncFormatter(fmt_y))
    ax.tick_params(direction='in', top=True, right=True, length=3.5, width=0.8,
                   color='#555555', labelsize=8.5, pad=2.5)
    for lab in ax.get_xticklabels() + ax.get_yticklabels():
        lab.set_fontweight('bold')
    ax.grid(True, linestyle=(0, (2, 2)), color='#cfcfcf', linewidth=0.6)
    for sp in ax.spines.values():
        sp.set_color('#666666')
        sp.set_linewidth(0.9)

    ax.set_title(p['title'], fontsize=8.8, pad=3)
    ax.set_xlabel('Residue Number', fontsize=9.2, labelpad=1)
    ax.set_ylabel('Δ RMSF (nm)', fontsize=8.6, labelpad=-1)

    leg = ax.legend(loc='upper center', bbox_to_anchor=(0.5, 0.935), ncol=3,
                    frameon=True, fancybox=False, borderaxespad=0,
                    handlelength=1.5, handletextpad=0.25, columnspacing=0.5,
                    borderpad=0.25, prop={'family': 'Liberation Serif', 'weight': 'bold', 'size': 6.9})
    leg.get_frame().set_edgecolor('#333333')
    leg.get_frame().set_linewidth(0.8)
    leg.get_frame().set_alpha(1)

    fig.text(p['label_xy'][0], p['label_xy'][1], p['key'], fontsize=15,
             fontweight='bold', family='Liberation Sans', ha='left', va='center')
    return ax


fig = plt.figure(figsize=(10.65, 8.9), dpi=100)
axes = {}
for p in PANELS:
    axes[p['key']] = draw_panel(fig, p)

# red boxes marking the regions in panel A
axA = axes['A']
for (r0, r1), lab in zip(A_REGIONS, A_REGION_LABELS):
    axA.add_patch(Rectangle((r0, -0.325), r1 - r0, 0.565, fill=False,
                            edgecolor='#e32b2b', linewidth=1.2, zorder=5))
    axA.text(r1 + 11, 0.2, lab, color='#e32b2b', fontsize=10,
             fontweight='normal', ha='center', va='center')

plt.savefig('out.png', dpi=100)
plt.close(fig)
